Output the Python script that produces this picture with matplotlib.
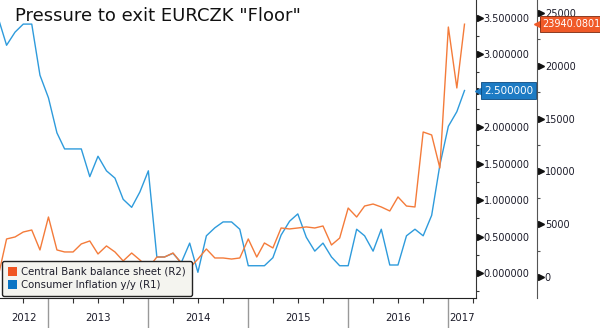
import numpy as np
import pandas as pd
import matplotlib
matplotlib.use('Agg')
import matplotlib.pyplot as plt
import matplotlib.dates as mdates
import matplotlib.transforms as mtransforms
from matplotlib.ticker import MultipleLocator, FuncFormatter, NullFormatter
from matplotlib.patches import Patch

# monthly points, Jul 2012 .. Mar 2017
dates = pd.date_range('2012-07-01', periods=57, freq='MS')

# Consumer Inflation y/y (R1)
inflation = [3.50, 3.12, 3.30, 3.41, 3.41, 2.71, 2.40, 1.92, 1.70, 1.70,
             1.70, 1.32, 1.60, 1.40, 1.30, 1.01, 0.90, 1.11, 1.40, 0.22,
             0.22, 0.27, 0.14, 0.41, 0.01, 0.51, 0.62, 0.70, 0.70, 0.60,
             0.10, 0.10, 0.10, 0.21, 0.52, 0.71, 0.81, 0.49, 0.30, 0.41,
             0.22, 0.10, 0.10, 0.60, 0.51, 0.30, 0.60, 0.11, 0.11, 0.51,
             0.60, 0.51, 0.79, 1.48, 2.01, 2.21, 2.50]

# Central Bank balance sheet (R2)
balance = [0, 3600, 3790, 4260, 4450, 2560, 5680, 2560, 2370, 2370,
           3130, 3410, 2180, 2940, 2370, 1520, 2270, 1610, 850, 1890,
           1890, 2270, 1330, 850, 1700, 2650, 1800, 1800, 1700, 1800,
           3600, 1890, 3220, 2750, 4640, 4550, 4640, 4740, 4640, 4830,
           3030, 3690, 6530, 5680, 6720, 6910, 6630, 6250, 7580, 6720,
           6630, 13730, 13450, 10320, 23670, 17900, 23940.0801]

r1_ticks = [0, 0.5, 1.0, 1.5, 2.0, 2.5, 3.0, 3.5]
r2_ticks = [0, 5000, 10000, 15000, 20000, 25000]
years = [2012, 2013, 2014, 2015, 2016, 2017]

title = 'Pressure to exit EURCZK "Floor"'
lab_cb = 'Central Bank balance sheet (R2)'
lab_cpi = 'Consumer Inflation y/y (R1)'

c_orange = '#f47b3a'
c_blue = '#2e9bdc'
c_text = '#1c1c2a'

plt.rcParams['font.family'] = ['DejaVu Sans']

fig = plt.figure(figsize=(6, 3.28), dpi=100)
ax = fig.add_axes([0, 30 / 328, 476 / 600, 298 / 328])
ax2 = ax.twinx()

ax.plot(dates, inflation, color=c_blue, lw=1.0)
ax2.plot(dates, balance, color=c_orange, lw=1.0)

xmin, xmax = pd.Timestamp('2012-07-08'), pd.Timestamp('2017-04-12')
ax.set_xlim(xmin, xmax)
ax.set_ylim(-0.342, 3.74)
ax2.set_ylim(-1990, 26230)

for a in (ax, ax2):
    a.spines['top'].set_visible(False)
    a.spines['left'].set_visible(False)
ax.spines['right'].set_color('#333333')
ax.spines['bottom'].set_color('#222222')
ax2.spines['bottom'].set_visible(False)
ax2.spines['right'].set_position(('outward', 44))
ax2.spines['right'].set_color('#555555')

# x axis: year separators + quarterly ticks
ax.xaxis.set_major_locator(mdates.YearLocator())
ax.xaxis.set_minor_locator(mdates.MonthLocator(bymonth=[1, 4, 7, 10]))
ax.xaxis.set_major_formatter(NullFormatter())
ax.xaxis.set_minor_formatter(NullFormatter())
ax.tick_params(axis='x', which='major', length=22, color='#999999', width=1)
ax.tick_params(axis='x', which='minor', length=3.5, color='#333333', width=0.8)

trans_x = mtransforms.blended_transform_factory(ax.transData, ax.transAxes)
for y in years:
    lo = max(mdates.date2num(pd.Timestamp(f'{y}-01-01')), mdates.date2num(xmin))
    hi = min(mdates.date2num(pd.Timestamp(f'{y + 1}-01-01')), mdates.date2num(xmax))
    ax.text((lo + hi) / 2, -20 / 298, str(y), transform=trans_x,
            ha='center', va='center', fontsize=7.3, color=c_text)

# R1 axis (the tick under the last-value tag is hidden by the tag)
def r1_fmt(v, pos):
    if abs(v - inflation[-1]) < 1e-9:
        return ''
    return f'{v:.6f}'

ax.yaxis.tick_right()
ax.set_yticks(r1_ticks)
ax.yaxis.set_minor_locator(MultipleLocator(0.25))
ax.yaxis.set_major_formatter(FuncFormatter(r1_fmt))
ax.tick_params(axis='y', which='major', length=0, pad=5.5, labelsize=7, labelcolor=c_text)
ax.tick_params(axis='y', which='minor', length=2.5, color='#333333', width=0.8)

# R2 axis
ax2.set_yticks(r2_ticks)
ax2.yaxis.set_minor_locator(MultipleLocator(2500))
ax2.tick_params(axis='y', which='major', length=0, pad=5.5, labelsize=7, labelcolor=c_text)
ax2.tick_params(axis='y', which='minor', length=2.5, color='#555555', width=0.8)

# little pointer triangles at major ticks
t1 = mtransforms.blended_transform_factory(ax.transAxes, ax.transData)
t2 = mtransforms.blended_transform_factory(ax2.transAxes, ax2.transData)
ax.plot([1.0] * len(r1_ticks), r1_ticks, ls='none', marker='>', ms=3.8, color='#111111',
        transform=mtransforms.offset_copy(t1, fig, x=3.5, y=0, units='dots'), clip_on=False)
ax2.plot([1.0] * len(r2_ticks), r2_ticks, ls='none', marker='>', ms=3.8, color='#111111',
         transform=mtransforms.offset_copy(t2, fig, x=64.5, y=0, units='dots'), clip_on=False)

# last value tags (pointer drawn below the box)
ax.plot([1.0], [inflation[-1]], marker='<', ms=7, color='#1d7bc4', ls='none', zorder=4,
        transform=mtransforms.offset_copy(t1, fig, x=4, y=0, units='dots'), clip_on=False)
ax.text(1.0, inflation[-1], f'{inflation[-1]:.6f}', fontsize=7.5, color='white', va='center', ha='left',
        transform=mtransforms.offset_copy(t1, fig, x=8, y=0, units='dots'), clip_on=False, zorder=5,
        bbox=dict(boxstyle='square,pad=0.3', fc='#1d7bc4', ec='#0c4a80', lw=0.6))
ax2.plot([1.0], [balance[-1]], marker='<', ms=7, color='#f05a28', ls='none', zorder=4,
         transform=mtransforms.offset_copy(t2, fig, x=63, y=0, units='dots'), clip_on=False)
ax2.text(1.0, balance[-1], f'{balance[-1]:.4f}', fontsize=7, color='white', va='center', ha='left',
         transform=mtransforms.offset_copy(t2, fig, x=66.5, y=0, units='dots'), clip_on=False, zorder=5,
         bbox=dict(boxstyle='square,pad=0.3', fc='#f05a28', ec='#7a2a10', lw=0.6))

fig.text(15 / 600, 1 - 16 / 328, title, fontsize=13, va='center', ha='left', color='#111111')

handles = [Patch(facecolor='#f05522', edgecolor='none'), Patch(facecolor='#0a74c4', edgecolor='none')]
leg = ax2.legend(handles, [lab_cb, lab_cpi], loc='lower left', bbox_to_anchor=(2 / 476, 2 / 298),
                 fontsize=7.3, handlelength=0.9, handleheight=0.9, handletextpad=0.35,
                 borderpad=0.6, labelspacing=0.3, borderaxespad=0, fancybox=True,
                 framealpha=1, facecolor='#f4f4ef', edgecolor='#222222')
for t in leg.get_texts():
    t.set_color(c_text)

fig.savefig('out.png', dpi=100)
